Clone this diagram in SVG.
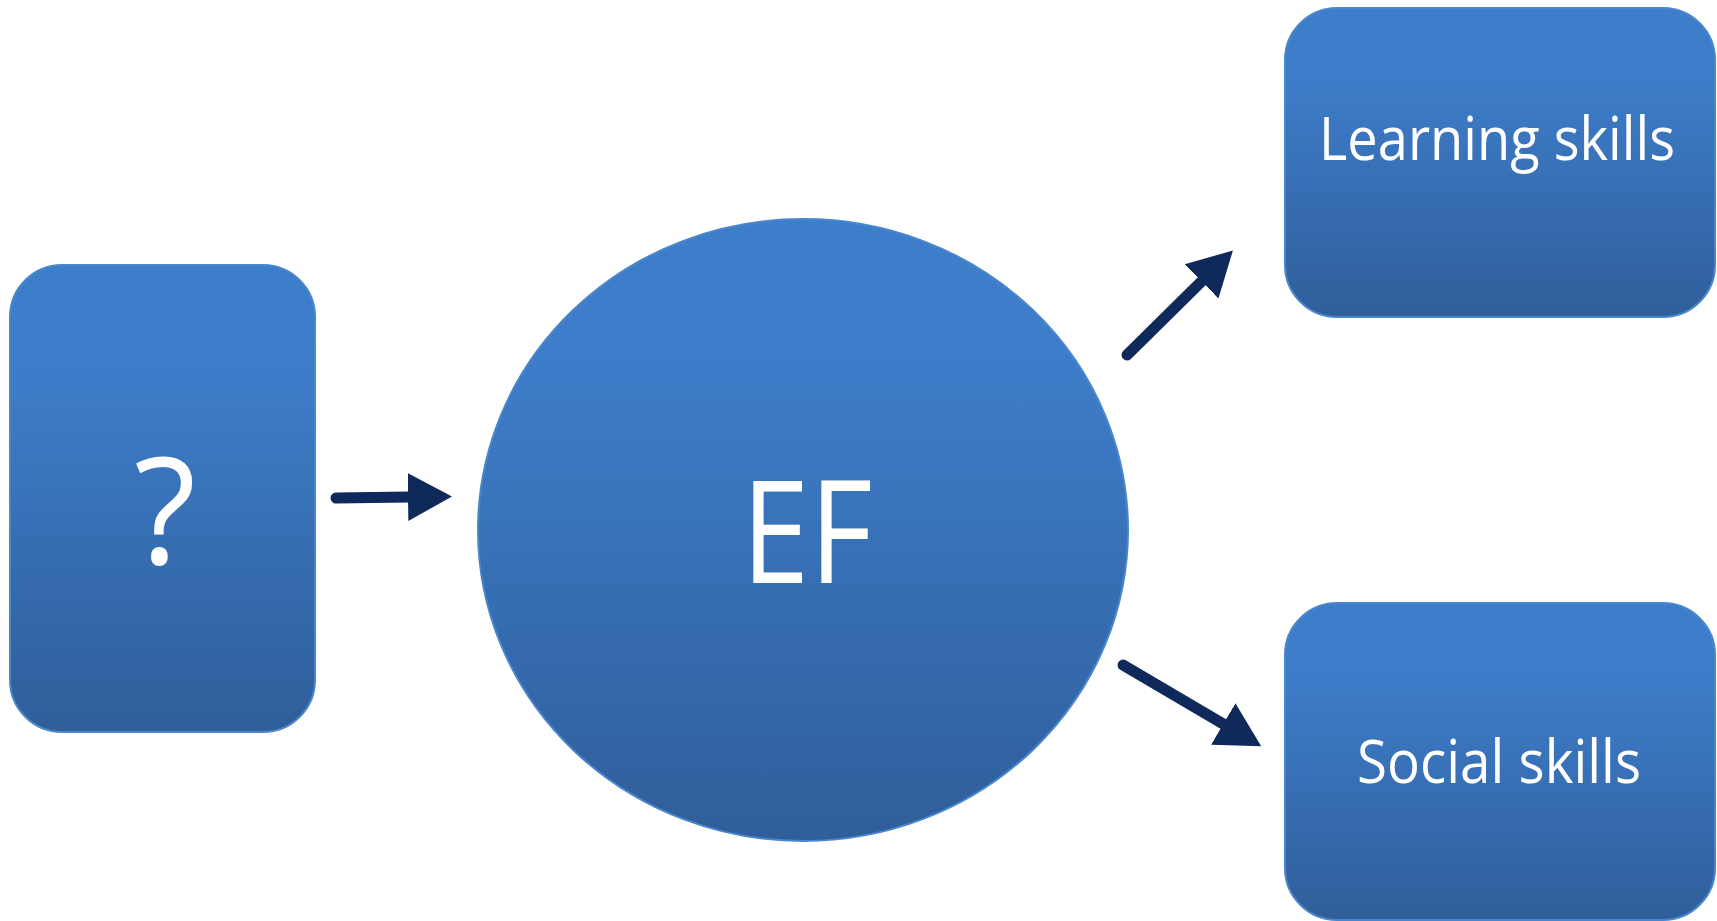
<svg xmlns="http://www.w3.org/2000/svg" width="1717" height="921" viewBox="0 0 1717 921">
<defs>
<linearGradient id="blueGrad" x1="0" y1="0" x2="0" y2="1">
<stop offset="0" stop-color="#3D7ECB"/>
<stop offset="0.25" stop-color="#3D7CC8"/>
<stop offset="1" stop-color="#2F5E9A"/>
</linearGradient>
<marker id="head" markerUnits="userSpaceOnUse" markerWidth="46" markerHeight="52" refX="2" refY="25" orient="auto">
<path d="M0,1 L44,25 L0,49 z" fill="#0F2A5A"/>
</marker>
<style>
.node{fill:url(#blueGrad);stroke:#4A86CC;stroke-width:2}
.lbl{fill:#FFFFFF;font-family:"Open Sans","Noto Sans","Liberation Sans",sans-serif;font-weight:400;text-anchor:middle}
.conn{stroke:#0F2A5A;stroke-width:11;stroke-linecap:round;fill:none;marker-end:url(#head)}
</style>
</defs>
<rect width="1717" height="921" fill="#FFFFFF"/>
<g id="node-question">
<rect class="node" x="10" y="265" width="305" height="467" rx="52" ry="52"/>
<text class="lbl" x="165" y="564" font-size="148" textLength="62" lengthAdjust="spacingAndGlyphs">?</text>
</g>
<g id="node-ef">
<ellipse class="node" cx="803" cy="530" rx="325" ry="311"/>
<text class="lbl" x="807" y="583" font-size="142" textLength="131" lengthAdjust="spacingAndGlyphs">EF</text>
</g>
<g id="node-learning">
<rect class="node" x="1285" y="8" width="430" height="309" rx="52" ry="52"/>
<text class="lbl" x="1497" y="160" font-size="60" textLength="356" lengthAdjust="spacingAndGlyphs">Learning skills</text>
</g>
<g id="node-social">
<rect class="node" x="1285" y="603" width="430" height="317" rx="52" ry="52"/>
<text class="lbl" x="1499" y="783" font-size="60" textLength="284" lengthAdjust="spacingAndGlyphs">Social skills</text>
</g>
<g id="connectors">
<line class="conn" x1="336" y1="498" x2="410" y2="497"/>
<line class="conn" x1="1127" y1="355" x2="1203" y2="280"/>
<line class="conn" x1="1123" y1="665" x2="1225" y2="725"/>
</g>
</svg>
